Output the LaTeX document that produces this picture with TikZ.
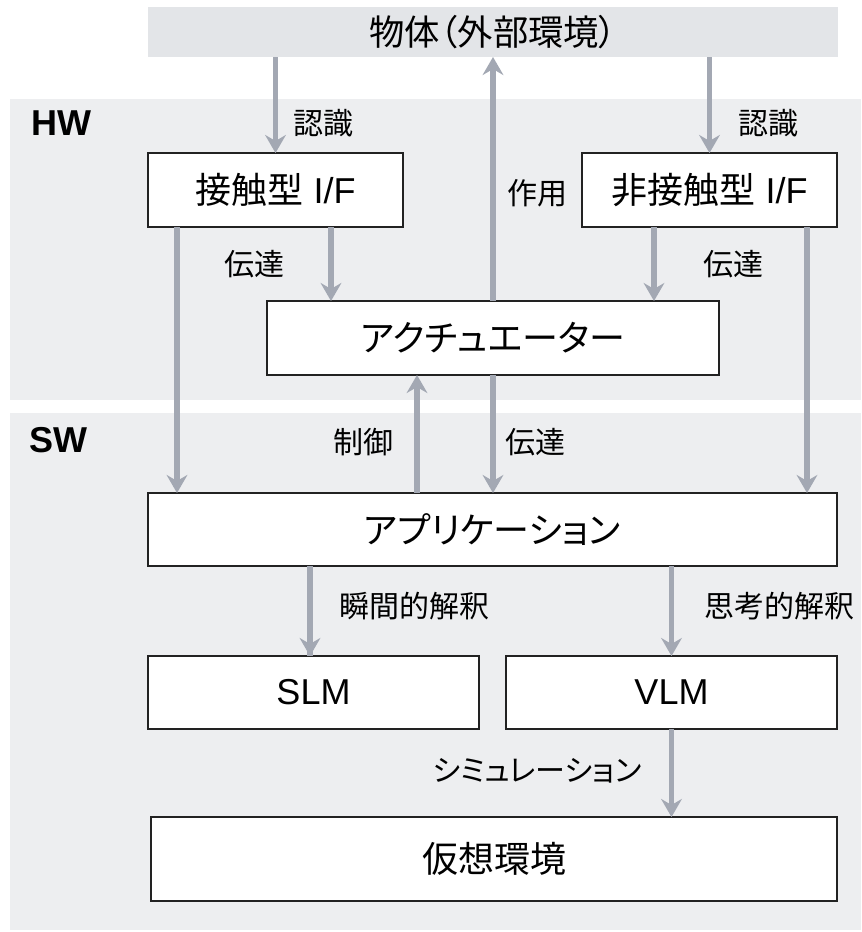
\documentclass[tikz,border=0pt]{standalone}
\usepackage{fontspec}
\setmainfont{Liberation Sans}
\newfontfamily\jp[RawFeature=+palt]{Noto Sans CJK JP}
\usetikzlibrary{arrows.meta,calc}
\definecolor{regionbg}{HTML}{EDEEF0}
\definecolor{topbg}{HTML}{E3E5E8}
\definecolor{arrowc}{HTML}{A3A8B3}
\definecolor{boxline}{HTML}{222222}
\def\u{0.75pt}
\tikzset{
  box/.style={draw=boxline, line width=1.1pt, fill=white, inner sep=0pt, outer sep=0pt,
    font=\fontsize{27pt}{30pt}\selectfont},
  arr/.style={draw=arrowc, line width=3.8pt,
    -{Stealth[length=13.5pt,width=15.5pt,inset=4.5pt]}},
  lbl/.style={inner sep=0pt, font=\jp\fontsize{22.5pt}{25pt}\selectfont},
  sect/.style={inner sep=0pt, anchor=west, font=\bfseries\fontsize{27pt}{30pt}\selectfont}
}
\begin{document}
\begin{tikzpicture}[x=0.75pt,y=-0.75pt]
\useasboundingbox (0,0) rectangle (861,932);
\fill[white] (0,0) rectangle (861,932);
% regions
\fill[regionbg] (10,99) rectangle (861,400);
\fill[regionbg] (10,413) rectangle (861,930);
\node[sect] (hw) at (31,123) {HW};
\node[sect] (sw) at (29,440) {SW};
% nodes
\node[inner sep=0pt, outer sep=0pt, fill=topbg, minimum width={690*\u}, minimum height={50*\u},
  font=\jp\fontsize{26.5pt}{29pt}\selectfont] (obj) at (493,32) {物体（外部環境）};
\node[box, minimum width={255*\u}, minimum height={74*\u}] (ifc) at (275.5,190) {{\jp 接触型} I/F};
\node[box, minimum width={255*\u}, minimum height={74*\u}] (nif) at (709.5,190) {{\jp 非接触型} I/F};
\node[box, minimum width={452*\u}, minimum height={74*\u}] (act) at (493,338) {\jp アクチュエーター};
\node[box, minimum width={689*\u}, minimum height={73*\u}] (app) at (492.5,529.5) {\jp アプリケーション};
\node[box, minimum width={331*\u}, minimum height={73*\u}] (slm) at (313.5,692.5) {SLM};
\node[box, minimum width={331*\u}, minimum height={73*\u}] (vlm) at (671.5,692.5) {VLM};
\node[box, minimum width={686*\u}, minimum height={84*\u}] (vir) at (494,859) {\jp 仮想環境};
% connectors
\draw[arr] (ifc.north |- obj.south) -- (ifc.north);
\draw[arr] (nif.north |- obj.south) -- (nif.north);
\draw[arr] (act.north) -- (act.north |- obj.south);
\draw[arr] ($(ifc.south)+(55.5,0)$) coordinate (a1) -- (a1 |- act.north);
\draw[arr] ($(nif.south)+(-55.5,0)$) coordinate (a2) -- (a2 |- act.north);
\draw[arr] ($(ifc.south)+(-98.5,0)$) coordinate (a3) -- (a3 |- app.north);
\draw[arr] ($(nif.south)+(97.5,0)$) coordinate (a4) -- (a4 |- app.north);
\draw[arr] ($(app.north)+(-75.5,0)$) coordinate (a5) -- (a5 |- act.south);
\draw[arr] (act.south) -- (act.south |- app.north);
\draw[arr] ($(slm.north)+(-3.5,0)$) coordinate (a6) |- (a6 |- app.south) -- (a6);
\draw[arr] (vlm.north |- app.south) -- (vlm.north);
\draw[arr] (vlm.south) -- (vir.north -| vlm.south);
% labels
\node[lbl] (l1) at (323,123) {認識};
\node[lbl] (l2) at (768,123) {認識};
\node[lbl] (l3) at (537.5,193) {作用};
\node[lbl] (l4) at (254,264) {伝達};
\node[lbl] (l5) at (733,264) {伝達};
\node[lbl] (l6) at (363,442) {制御};
\node[lbl] (l7) at (535,442) {伝達};
\node[lbl] (l8) at (414,606) {瞬間的解釈};
\node[lbl] (l9) at (779,606) {思考的解釈};
\node[lbl] (l10) at (537,771) {シミュレーション};
\end{tikzpicture}
\end{document}
